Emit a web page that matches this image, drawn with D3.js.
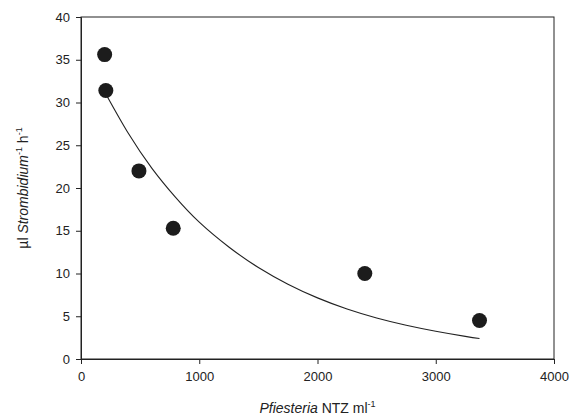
<!DOCTYPE html>
<html>
<head>
<meta charset="utf-8">
<script src="https://cdn.jsdelivr.net/npm/d3@7"></script>
<style>
  body { margin: 0; background: #fff; }
  text { font-family: "Liberation Sans", Arial, sans-serif; fill: #222; }
</style>
</head>
<body>
<div class="chart"></div>
<script>
// observed points
var ntz = [200, 210, 490, 780, 2400, 3370];
var grazing = [35.6, 31.4, 22.0, 15.3, 10.0, 4.5];

// fitted curve
var fitX = [210, 400, 600, 800, 1000, 1250, 1500, 1750, 2000, 2250, 2500, 2750, 3000, 3250, 3370];
var fitY = [31.0, 26.4, 22.3, 18.9, 16.0, 13.1, 10.7, 8.75, 7.15, 5.85, 4.8, 3.95, 3.25, 2.65, 2.4];

var xTicks = [0, 1000, 2000, 3000, 4000];
var yTicks = [0, 5, 10, 15, 20, 25, 30, 35, 40];

var svgWidth = 581;
var svgHeight = 415;

var margin = {
  top: 17,
  right: 27,
  bottom: 56,
  left: 81
};

var width = svgWidth - margin.left - margin.right;
var height = svgHeight - margin.top - margin.bottom;

var svg = d3.select(".chart")
  .append("svg")
  .attr("width", svgWidth)
  .attr("height", svgHeight);

var chartGroup = svg.append("g")
  .attr("transform", `translate(${margin.left}, ${margin.top})`);

var xScale = d3.scaleLinear().domain([0, 4000]).range([0, width]);
var yScale = d3.scaleLinear().domain([0, 40]).range([height, 0]);

// frame
chartGroup.append("rect")
  .attr("width", width)
  .attr("height", height)
  .attr("fill", "none")
  .attr("stroke", "#222")
  .attr("stroke-width", 1);

var bottomAxis = d3.axisBottom(xScale).tickValues(xTicks).tickSize(5).tickPadding(8).tickFormat(d3.format("d"));
var leftAxis = d3.axisLeft(yScale).tickValues(yTicks).tickSize(5).tickPadding(6);

var gx = chartGroup.append("g")
  .attr("transform", `translate(0, ${height})`)
  .call(bottomAxis);

var gy = chartGroup.append("g")
  .call(leftAxis);

[gx, gy].forEach(function(g) {
  g.select(".domain").attr("stroke", "#222");
  g.selectAll(".tick line").attr("stroke", "#222");
  g.selectAll(".tick text")
    .attr("font-family", "Liberation Sans, Arial, sans-serif")
    .attr("font-size", 13)
    .attr("fill", "#222");
});

// fitted line
var line = d3.line()
  .x((d, i) => xScale(fitX[i]))
  .y((d, i) => yScale(fitY[i]))
  .curve(d3.curveNatural);

chartGroup.append("path")
  .datum(fitY)
  .attr("d", line)
  .attr("fill", "none")
  .attr("stroke", "#222")
  .attr("stroke-width", 1.1);

// points
chartGroup.selectAll("circle")
  .data(grazing)
  .enter()
  .append("circle")
  .attr("cx", (d, i) => xScale(ntz[i]))
  .attr("cy", d => yScale(d))
  .attr("r", 7.5)
  .attr("fill", "#1c1c1c");

// axis labels
var xLabel = svg.append("text")
  .attr("x", margin.left + width / 2)
  .attr("y", 413)
  .attr("text-anchor", "middle")
  .attr("font-size", 14);
xLabel.append("tspan").attr("font-style", "italic").text("Pfiesteria");
xLabel.append("tspan").text(" NTZ ml");
xLabel.append("tspan").attr("font-size", 9).attr("dy", -6).text("-1");

var yLabel = svg.append("text")
  .attr("transform", `translate(28, ${margin.top + height / 2}) rotate(-90)`)
  .attr("text-anchor", "middle")
  .attr("font-size", 14);
yLabel.append("tspan").text("µl ");
yLabel.append("tspan").attr("font-style", "italic").text("Strombidium");
yLabel.append("tspan").attr("font-size", 9).attr("dy", -6).text("-1");
yLabel.append("tspan").attr("dy", 6).text(" h");
yLabel.append("tspan").attr("font-size", 9).attr("dy", -6).text("-1");
</script>
</body>
</html>
